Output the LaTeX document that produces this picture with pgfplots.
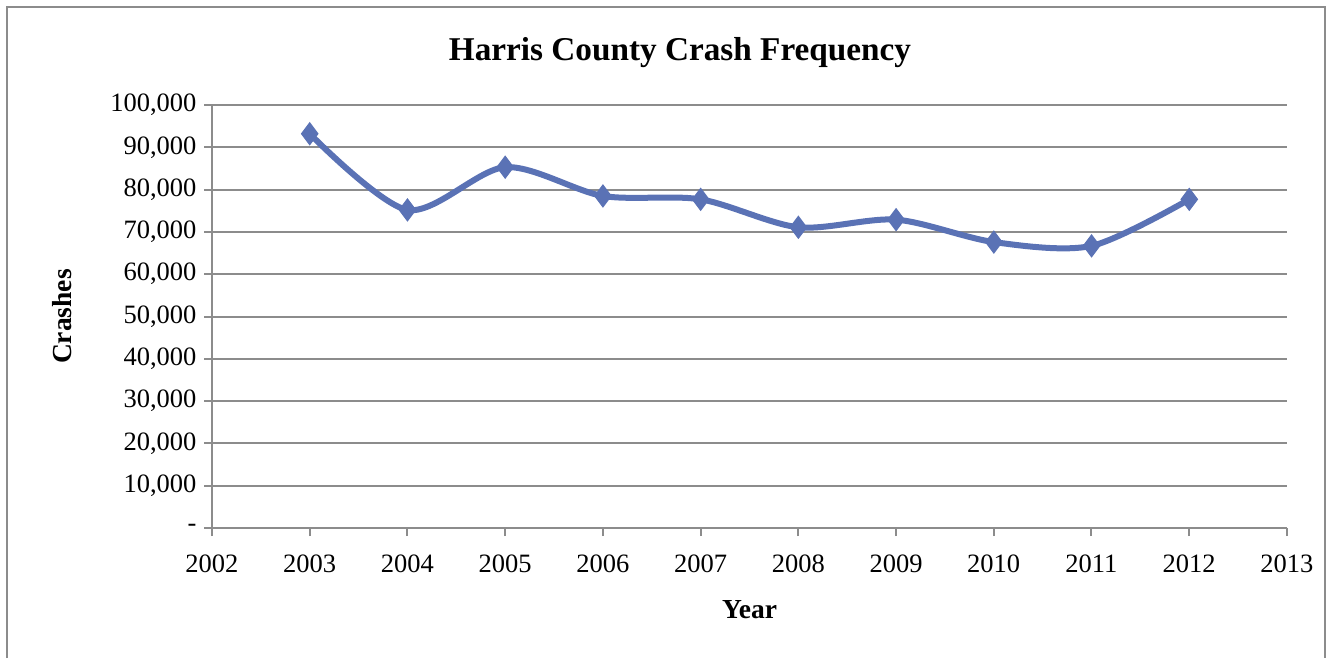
\documentclass[border=0pt]{standalone}
\usepackage{pgfplots}
\pgfplotsset{compat=1.18}
\usepackage{fontspec}
\setmainfont{Liberation Serif}
\definecolor{series}{HTML}{5A72B5}
\definecolor{gridc}{HTML}{8C8C8C}

\begin{document}
\begin{tikzpicture}
% 1 px of the reference = 0.4pt
\begin{axis}[
    at={(0,0)}, anchor=south west,
    scale only axis,
    width=430pt, height=169.2pt,
    xmin=2002, xmax=2013,
    ymin=0, ymax=100000,
    scaled y ticks=false,
    axis lines*=left,
    axis line style={gridc, line width=0.8pt},
    every tick/.style={gridc, line width=0.8pt},
    tick align=outside,
    major tick length=3.2pt,
    xtick={2002,...,2013},
    xticklabels={2002,2003,2004,2005,2006,2007,2008,2009,2010,2011,2012,2013},
    ytick={0,10000,...,100000},
    yticklabels={-,{10,000},{20,000},{30,000},{40,000},{50,000},{60,000},{70,000},{80,000},{90,000},{100,000}},
    ymajorgrids,
    major grid style={gridc, line width=0.8pt},
    tick label style={font=\fontsize{10.6}{12}\selectfont, black},
    xticklabel style={yshift=-4pt},
    yticklabel style={xshift=0.5pt},
    xlabel={Year},
    ylabel={Crashes},
    label style={font=\fontsize{11}{13}\selectfont\bfseries},
    xlabel style={at={(axis description cs:0.5,0)}, anchor=center, yshift=-32.8pt},
    ylabel style={at={(axis description cs:-0.1395,0.5)}, anchor=center},
    clip=false,
]
\addplot[series, line width=2.4pt, smooth, tension=0.5,
    mark=diamond*, mark size=4.4pt, mark options={solid, fill=series, draw=series, line width=0.4pt}]
coordinates {
    (2003, 93200)
    (2004, 75200)
    (2005, 85300)
    (2006, 78500)
    (2007, 77700)
    (2008, 71100)
    (2009, 72900)
    (2010, 67600)
    (2011, 66700)
    (2012, 77700)
};
\end{axis}
\node[font=\fontsize{13.3}{15}\selectfont\bfseries] at (187.2pt,190pt) {Harris County Crash Frequency};
\draw[gridc, line width=0.6pt] (-82pt,-52pt) -- (-82pt,208.4pt) -- (445.2pt,208.4pt) -- (445.2pt,-52pt);
\useasboundingbox (-84.8pt,-52pt) rectangle (446.8pt,211.2pt);
\end{tikzpicture}
\end{document}
